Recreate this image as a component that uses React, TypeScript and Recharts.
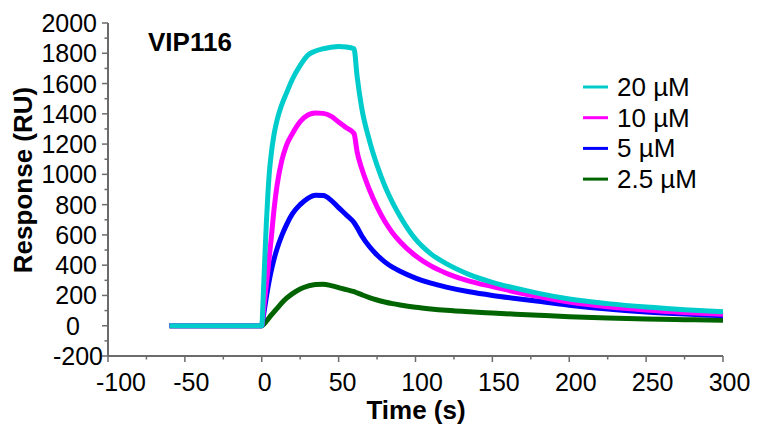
import React from 'react'
import { LineChart, Line, XAxis, YAxis } from 'recharts'

// time points (s) shared by all sensorgrams
const times = [-60, 0, 1, 2, 3, 4, 5, 6, 8, 10, 13, 16, 20, 25, 30, 35, 40, 45, 50, 55, 60, 62, 65, 70, 75, 80, 85, 90, 100, 110, 120, 135, 150, 165, 180, 200, 225, 250, 275, 300]

// response (RU)
const um20 = [0, 0, 200, 450, 680, 870, 1020, 1120, 1265, 1360, 1460, 1535, 1630, 1720, 1788, 1815, 1830, 1840, 1845, 1842, 1830, 1650, 1440, 1225, 1060, 925, 815, 722, 572, 475, 410, 338, 287, 248, 214, 177, 146, 123, 106, 93]
const um10 = [0, 0, 90, 180, 275, 365, 465, 560, 770, 930, 1090, 1190, 1270, 1348, 1392, 1406, 1403, 1385, 1346, 1308, 1270, 1150, 1040, 900, 785, 690, 615, 555, 462, 395, 347, 295, 258, 223, 192, 156, 125, 104, 88, 75]
const um5 = [0, 0, 60, 125, 190, 250, 305, 355, 440, 510, 595, 665, 740, 800, 842, 862, 860, 830, 780, 732, 682, 650, 595, 523, 467, 422, 387, 360, 315, 281, 255, 224, 200, 180, 162, 136, 110, 91, 77, 66]
const um2_5 = [0, 0, 8, 18, 30, 42, 55, 68, 92, 115, 150, 180, 212, 243, 262, 273, 274, 265, 252, 238, 225, 217, 205, 186, 170, 157, 146, 137, 122, 111, 102, 92, 84, 76, 69, 60, 51, 45, 40, 36]

const xTicks = [-100, -75, -50, -25, 0, 25, 50, 75, 100, 125, 150, 175, 200, 225, 250, 275, 300]
const yTicks = [-200, -100, 0, 100, 200, 300, 400, 500, 600, 700, 800, 900, 1000, 1100, 1200, 1300, 1400, 1500, 1600, 1700, 1800, 1900, 2000]

const series = [
  { key: 'c20', label: '20 µM', color: '#00CCCC', values: um20 },
  { key: 'c10', label: '10 µM', color: '#FF00FF', values: um10 },
  { key: 'c5', label: '5 µM', color: '#0000FF', values: um5 },
  { key: 'c2_5', label: '2.5 µM', color: '#006400', values: um2_5 },
]

const data = times.map((t, i) => {
  const row: Record<string, number> = { t }
  series.forEach(s => { row[s.key] = s.values[i] })
  return row
})

const FONT = '"Liberation Sans", Arial, sans-serif'
const AXIS = '#6b6b6b'

const XTick = (props: any) => {
  const { x, y, payload } = props
  const v = payload.value
  const major = v % 50 === 0
  const label = String(v)
  const dx = ({ 1: 3, 2: 4, 3: 6.5, 4: 13 } as Record<number, number>)[label.length] ?? 0
  return (
    <g>
      <line x1={x} x2={x} y1={y} y2={y + (major ? 6 : 3.5)} stroke={AXIS} strokeWidth={1.5} />
      {major && (
        <text x={x + dx} y={y + 35} textAnchor="middle" fontSize={25} fontFamily={FONT} fill="#000">{label}</text>
      )}
    </g>
  )
}

const YTick = (props: any) => {
  const { x, y, payload } = props
  const v = payload.value
  const major = v % 200 === 0
  const shift = v === 0 ? -17 : v === -200 ? 6 : 0
  return (
    <g>
      <line x1={x - (major ? 6 : 3.5)} x2={x} y1={y} y2={y} stroke={AXIS} strokeWidth={1.5} />
      {major && (
        <text x={x - 11 + shift} y={y + 9} textAnchor="end" fontSize={25} fontFamily={FONT} fill="#000">{v}</text>
      )}
    </g>
  )
}

export default function App() {
  const drawOrder = [...series].reverse()
  return (
    <div style={{ position: 'absolute', left: 0, top: 0, width: 758, height: 429, background: '#fff' }}>
      <LineChart width={758} height={429} data={data} margin={{ top: 23, right: 35, left: 0, bottom: 0 }}>
        <XAxis
          dataKey="t" type="number" domain={[-100, 300]} ticks={xTicks} interval={0}
          height={73} tickSize={0} tickMargin={0} tickLine={false}
          axisLine={{ stroke: AXIS, strokeWidth: 2 }} tick={<XTick />}
        />
        <YAxis
          type="number" domain={[-200, 2000]} ticks={yTicks} interval={0}
          width={108} tickSize={0} tickMargin={0} tickLine={false}
          axisLine={{ stroke: AXIS, strokeWidth: 2 }} tick={<YTick />}
        />
        {drawOrder.map(s => (
          <Line key={s.key} dataKey={s.key} type="monotone" stroke={s.color} strokeWidth={5}
            dot={false} activeDot={false} isAnimationActive={false} />
        ))}
      </LineChart>
      <svg width={758} height={429} style={{ position: 'absolute', left: 0, top: 0, pointerEvents: 'none' }}>
        <text x={148} y={51} fontSize={26} fontWeight="bold" fontFamily={FONT}>VIP116</text>
        <text x={416} y={419} fontSize={26} fontWeight="bold" fontFamily={FONT} textAnchor="middle">Time (s)</text>
        <text transform="translate(32,180) rotate(-90)" fontSize={26} fontWeight="bold" fontFamily={FONT} textAnchor="middle">Response (RU)</text>
        {series.map((s, i) => {
          const ry = 87 + i * 30.7
          return (
            <g key={s.key}>
              <line x1={583} x2={608} y1={ry} y2={ry} stroke={s.color} strokeWidth={3} />
              <text x={617} y={ry + 9} fontSize={26} fontFamily={FONT}>{s.label}</text>
            </g>
          )
        })}
      </svg>
    </div>
  )
}
